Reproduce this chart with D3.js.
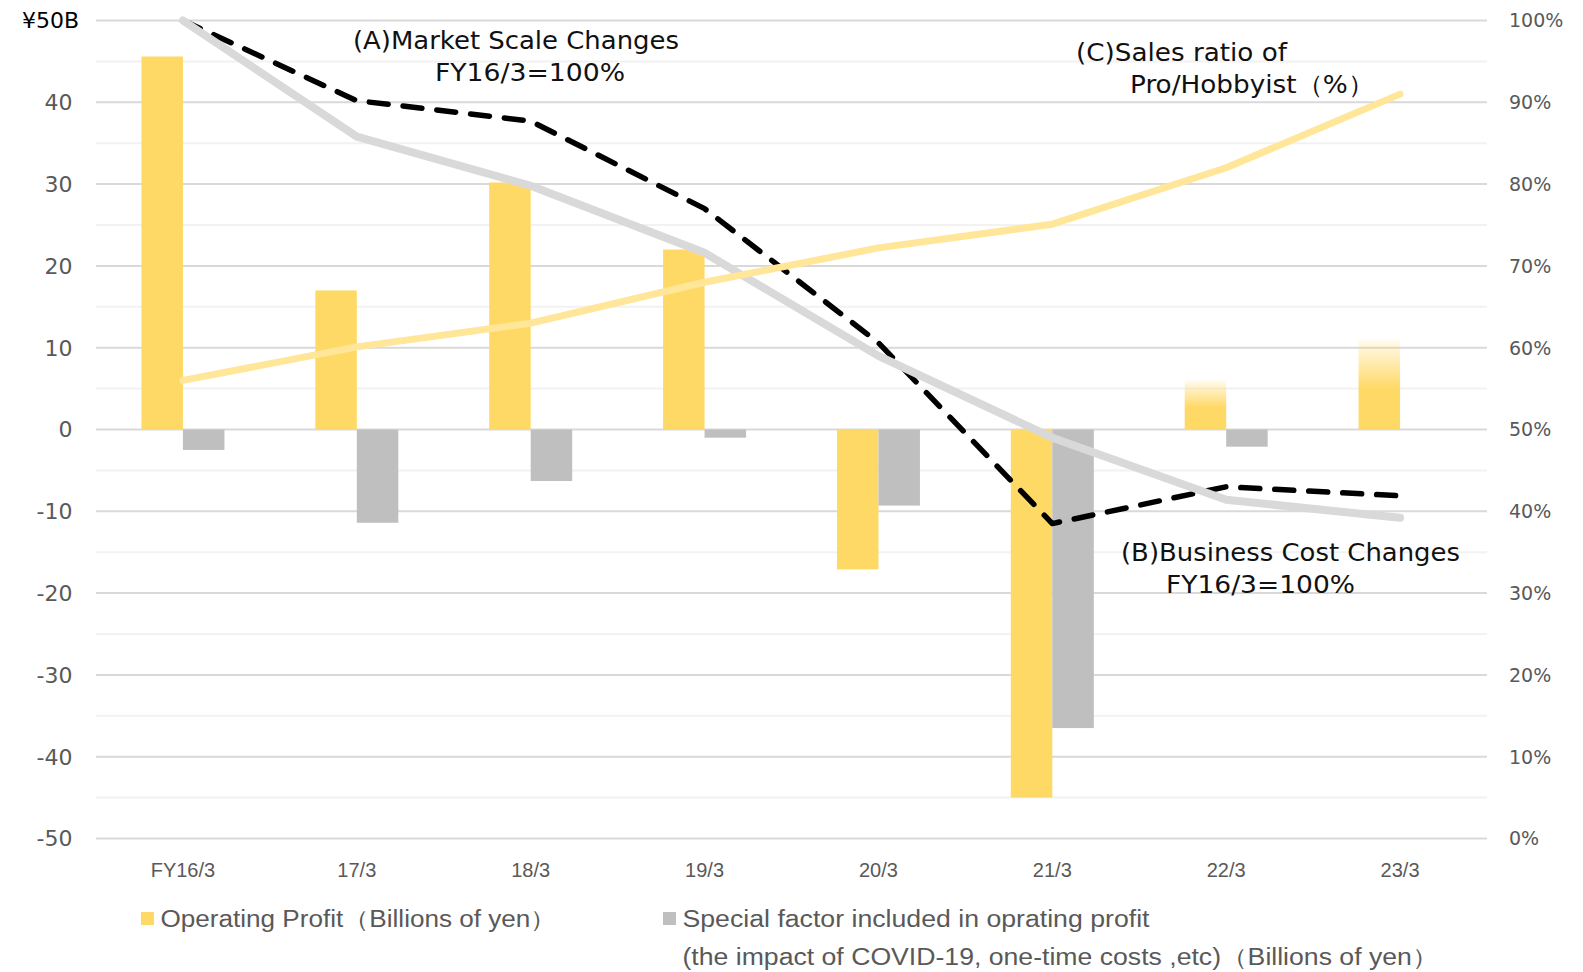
<!DOCTYPE html>
<html>
<head>
<meta charset="utf-8">
<script src="https://cdn.jsdelivr.net/npm/d3@7"></script>
<style>
  html, body { margin: 0; padding: 0; background: #fff; }
  svg { display: block; }
</style>
</head>
<body>
<svg id="chart" width="1583" height="972"></svg>
<script>
// ---- data ----
const categories = ["FY16/3", "17/3", "18/3", "19/3", "20/3", "21/3", "22/3", "23/3"];
const operatingProfit = [45.6, 17.0, 30.2, 22.0, -17.1, -45.0, 6.0, 11.0];
const specialFactor = [-2.5, -11.4, -6.3, -1.0, -9.3, -36.5, -2.1, null];
const isForecast = [false, false, false, false, false, false, true, true];
const marketScale = [100, 90.2, 87.7, 77.0, 60.6, 38.5, 43.0, 41.9];
const businessCost = [100, 85.8, 79.8, 71.6, 59.0, 49.0, 41.4, 39.2];
const salesRatio = [56.0, 60.1, 63.0, 68.0, 72.2, 75.1, 82.0, 91.0];
const leftTicks = [-50, -40, -30, -20, -10, 0, 10, 20, 30, 40, 50];
const rightTicks = [0, 10, 20, 30, 40, 50, 60, 70, 80, 90, 100];
const legendLabels = ["Operating Profit（Billions of yen）",
  "Special factor included in oprating profit",
  "(the impact of COVID-19, one-time costs ,etc)（Billions of yen）"];

// ---- layout ----
const svg = d3.select("#chart");
const plotLeft = 96, plotRight = 1487, plotTop = 20.5, plotBottom = 838.5;

const x = d3.scaleBand().domain(categories).range([plotLeft, plotRight]).paddingInner(0).paddingOuter(0);
const xSub = d3.scaleBand().domain(["op", "sp"]).range([0, x.bandwidth()]).paddingInner(0).paddingOuter(1.095);
const yL = d3.scaleLinear().domain([-50, 50]).range([plotBottom, plotTop]);
const yR = d3.scaleLinear().domain([0, 100]).range([plotBottom, plotTop]);

// gradient for forecast bars
const defs = svg.append("defs");
const grad = defs.append("linearGradient").attr("id", "fcGrad")
  .attr("x1", 0).attr("y1", 0).attr("x2", 0).attr("y2", 1);
grad.append("stop").attr("offset", "0%").attr("stop-color", "#FFD966").attr("stop-opacity", 0.1);
grad.append("stop").attr("offset", "55%").attr("stop-color", "#FFD966").attr("stop-opacity", 1);
grad.append("stop").attr("offset", "100%").attr("stop-color", "#FFD966").attr("stop-opacity", 1);

// gridlines
const gridVals = d3.range(-50, 50.001, 5);
svg.append("g").selectAll("line").data(gridVals).join("line")
  .attr("x1", plotLeft).attr("x2", plotRight)
  .attr("y1", d => yL(d)).attr("y2", d => yL(d))
  .attr("stroke", d => (Math.round(d) % 10 === 0) ? "#D9D9D9" : "#F2F2F2")
  .attr("stroke-width", 2);

// left axis labels
svg.append("g").selectAll("text").data(leftTicks).join("text")
  .attr("x", d => d === 50 ? 79 : 72.5)
  .attr("y", d => yL(d))
  .attr("dy", "0.36em")
  .attr("text-anchor", "end")
  .attr("font-family", "'DejaVu Sans', Verdana, sans-serif")
  .attr("font-size", 22)
  .attr("fill", d => d === 50 ? "#000" : "#595959")
  .text(d => d === 50 ? "¥50B" : d3.format("d")(d).replace("−", "-"));

// right axis labels
svg.append("g").selectAll("text").data(rightTicks).join("text")
  .attr("x", 1509)
  .attr("y", d => yR(d))
  .attr("dy", "0.36em")
  .attr("text-anchor", "start")
  .attr("font-family", "'DejaVu Sans', Verdana, sans-serif")
  .attr("font-size", 19)
  .attr("fill", "#595959")
  .text(d => d + "%");

// x axis labels
svg.append("g").selectAll("text").data(categories).join("text")
  .attr("x", d => x(d) + x.bandwidth() / 2)
  .attr("y", 876.5)
  .attr("text-anchor", "middle")
  .attr("font-family", "'Liberation Sans', Arial, sans-serif")
  .attr("font-size", 20)
  .attr("fill", "#595959")
  .text(d => d);

// bars
const barData = categories.map((c, i) => ({ c, op: operatingProfit[i], sp: specialFactor[i], fc: isForecast[i] }));
const bars = svg.append("g");
bars.selectAll("rect.op").data(barData).join("rect").attr("class", "op")
  .attr("x", d => x(d.c) + xSub("op"))
  .attr("width", xSub.bandwidth())
  .attr("y", d => yL(Math.max(0, d.op)))
  .attr("height", d => Math.abs(yL(d.op) - yL(0)))
  .attr("fill", d => d.fc ? "url(#fcGrad)" : "#FFD966");
bars.selectAll("rect.sp").data(barData.filter(d => d.sp !== null)).join("rect").attr("class", "sp")
  .attr("x", d => x(d.c) + xSub("sp"))
  .attr("width", xSub.bandwidth())
  .attr("y", d => yL(Math.max(0, d.sp)))
  .attr("height", d => Math.abs(yL(d.sp) - yL(0)))
  .attr("fill", "#BFBFBF");

// lines (right axis)
const cx = c => x(c) + x.bandwidth() / 2;
const lineGen = d3.line().x((d, i) => cx(categories[i])).y(d => yR(d));

svg.append("path").datum(marketScale)
  .attr("d", lineGen).attr("fill", "none")
  .attr("stroke", "#000").attr("stroke-width", 5.5)
  .attr("stroke-dasharray", "19 15").attr("stroke-linecap", "round").attr("stroke-linejoin", "round");

svg.append("path").datum(businessCost)
  .attr("d", lineGen).attr("fill", "none")
  .attr("stroke", "#D9D9D9").attr("stroke-width", 8)
  .attr("stroke-linecap", "round").attr("stroke-linejoin", "round");

svg.append("path").datum(salesRatio)
  .attr("d", lineGen).attr("fill", "none")
  .attr("stroke", "#FFE699").attr("stroke-width", 7)
  .attr("stroke-linecap", "round").attr("stroke-linejoin", "round");

// annotations
const annotations = [
  { t: "(A)Market Scale Changes", x: 353, y: 48.5, w: 326 },
  { t: "FY16/3=100%", x: 435, y: 80.5, w: 190 },
  { t: "(C)Sales ratio of", x: 1076, y: 60.5, w: 211 },
  { t: "Pro/Hobbyist（%）", x: 1130, y: 93, w: 244 },
  { t: "(B)Business Cost Changes", x: 1121, y: 561, w: 339 },
  { t: "FY16/3=100%", x: 1166, y: 593, w: 189 }
];
svg.append("g").selectAll("text").data(annotations).join("text")
  .attr("x", d => d.x).attr("y", d => d.y)
  .attr("font-family", "'DejaVu Sans', Verdana, sans-serif")
  .attr("font-size", 25)
  .attr("fill", "#111")
  .attr("textLength", d => d.w)
  .attr("lengthAdjust", "spacingAndGlyphs")
  .text(d => d.t);

// legend
const lg = svg.append("g");
lg.append("rect").attr("x", 141).attr("y", 912).attr("width", 13).attr("height", 13).attr("fill", "#FFD966");
lg.append("rect").attr("x", 663).attr("y", 912).attr("width", 13).attr("height", 13).attr("fill", "#BFBFBF");
const legendText = [
  { t: legendLabels[0], x: 160.5, y: 927, w: 396 },
  { t: legendLabels[1], x: 682.5, y: 927, w: 467 },
  { t: legendLabels[2], x: 682.5, y: 965, w: 756 }
];
lg.selectAll("text").data(legendText).join("text")
  .attr("x", d => d.x).attr("y", d => d.y)
  .attr("font-family", "'Liberation Sans', Arial, sans-serif")
  .attr("font-size", 23)
  .attr("fill", "#595959")
  .attr("textLength", d => d.w)
  .attr("lengthAdjust", "spacingAndGlyphs")
  .text(d => d.t);
</script>
</body>
</html>
